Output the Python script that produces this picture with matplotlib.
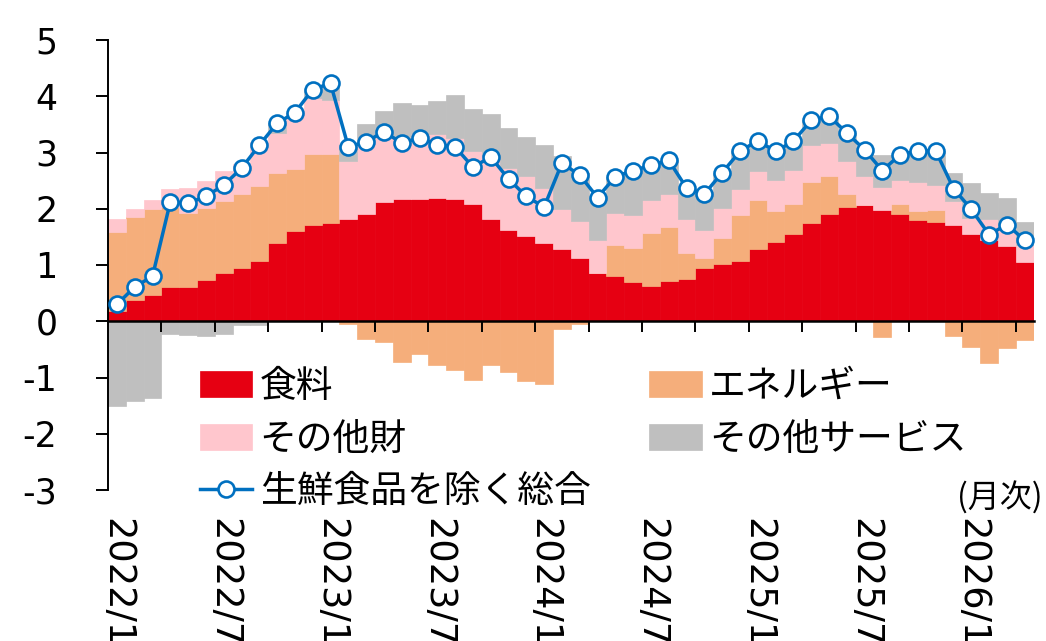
import matplotlib
matplotlib.use("Agg")
import matplotlib.pyplot as plt
import numpy as np

plt.rcParams["font.family"] = ["DejaVu Sans", "Noto Sans CJK JP"]
plt.rcParams["axes.unicode_minus"] = False

# Contributions to y/y CPI change (%pt), monthly from 2022/1
food = [0.19, 0.37, 0.46, 0.61, 0.61, 0.74, 0.86, 0.95, 1.07, 1.39, 1.60, 1.72,
        1.74, 1.82, 1.91, 2.12, 2.17, 2.18, 2.19, 2.18, 2.09, 1.82, 1.63, 1.51,
        1.39, 1.28, 1.13, 0.86, 0.80, 0.70, 0.63, 0.71, 0.75, 0.95, 1.01, 1.07,
        1.29, 1.41, 1.56, 1.75, 1.90, 2.03, 2.06, 1.98, 1.90, 1.80, 1.77, 1.71,
        1.55, 1.45, 1.34, 1.06]
energy = [1.40, 1.48, 1.53, 1.42, 1.32, 1.28, 1.28, 1.32, 1.33, 1.24, 1.10, 1.25,
          1.23, -0.04, -0.32, -0.37, -0.72, -0.59, -0.78, -0.87, -1.04, -0.78, -0.90, -1.06,
          -1.12, -0.13, -0.04, 0.00, 0.55, 0.60, 0.94, 0.96, 0.47, 0.17, 0.47, 0.82,
          0.86, 0.55, 0.52, 0.73, 0.68, 0.24, 0.00, -0.28, 0.18, 0.16, 0.20, -0.27,
          -0.46, -0.74, -0.47, -0.33]
other_goods = [0.22, 0.15, 0.16, 0.33, 0.44, 0.48, 0.53, 0.52, 0.79, 0.72, 1.01, 1.00,
               0.96, 1.03, 1.29, 1.17, 1.11, 1.17, 1.14, 1.08, 0.93, 1.12, 1.10, 1.07,
               0.98, 0.71, 0.65, 0.59, 0.58, 0.59, 0.59, 0.60, 0.59, 0.50, 0.54, 0.47,
               0.52, 0.56, 0.61, 0.65, 0.59, 0.58, 0.52, 0.41, 0.43, 0.52, 0.46, 0.43,
               0.29, 0.36, 0.37, 0.30]
other_services = [-1.51, -1.42, -1.36, -0.23, -0.25, -0.27, -0.23, -0.07, -0.06, 0.17, 0.00, 0.15,
                  0.28, 0.29, 0.31, 0.45, 0.60, 0.49, 0.58, 0.76, 0.76, 0.75, 0.70, 0.70,
                  0.77, 0.95, 0.86, 0.75, 0.64, 0.79, 0.61, 0.59, 0.56, 0.64, 0.62, 0.66,
                  0.54, 0.50, 0.51, 0.44, 0.48, 0.50, 0.47, 0.57, 0.45, 0.55, 0.60, 0.49,
                  0.61, 0.47, 0.48, 0.41]
core_cpi = [0.30, 0.61, 0.80, 2.12, 2.10, 2.22, 2.42, 2.72, 3.13, 3.52, 3.71, 4.12,
            4.23, 3.10, 3.19, 3.37, 3.17, 3.26, 3.14, 3.10, 2.74, 2.92, 2.53, 2.22,
            2.03, 2.81, 2.60, 2.20, 2.57, 2.68, 2.77, 2.86, 2.37, 2.26, 2.64, 3.02,
            3.21, 3.02, 3.20, 3.57, 3.65, 3.35, 3.05, 2.68, 2.96, 3.03, 3.03, 2.36,
            1.99, 1.54, 1.72, 1.44]
tick_labels = ["2022/1", "2022/7", "2023/1", "2023/7", "2024/1",
               "2024/7", "2025/1", "2025/7", "2026/1"]

series = [
    (food, "食料", "#E60012"),
    (energy, "エネルギー", "#F5AE7B"),
    (other_goods, "その他財", "#FFC6CD"),
    (other_services, "その他サービス", "#BFBFBF"),
]

n = len(core_cpi)
x = np.arange(n)

fig = plt.figure(figsize=(10.46, 6.41), dpi=100)
ax = fig.add_axes([108 / 1046, 1 - 490 / 641, (1033.6 - 108) / 1046, 450 / 641])

pos = np.zeros(n)
neg = np.zeros(n)
bars = {}
for vals, label, color in series:
    v = np.asarray(vals, dtype=float)
    bottom = np.where(v >= 0, pos, neg)
    bars[label] = ax.bar(x, v, width=1.0, bottom=bottom, color=color,
                         edgecolor=color, linewidth=0.5, label=label, zorder=1)
    pos += np.clip(v, 0, None)
    neg += np.clip(v, None, 0)

line, = ax.plot(x, core_cpi, color="#0070C0", lw=2.5, marker="o", ms=11.5,
                mfc="white", mec="#0070C0", mew=1.9, zorder=5,
                label="生鮮食品を除く総合")

ax.set_xlim(-0.5, n - 0.5)
ax.set_ylim(-3, 5)
ax.set_yticks(range(-3, 6))
ax.tick_params(axis="y", direction="out", length=8.5, width=1.4,
               labelsize=25, pad=28)

for s in ("top", "right"):
    ax.spines[s].set_visible(False)
ax.spines["left"].set_linewidth(1.4)
ax.spines["bottom"].set_position(("data", 0))
ax.spines["bottom"].set_linewidth(1.8)

# quarter boundary ticks on the zero line
ax.set_xticks(np.arange(2.5, n, 3))
ax.tick_params(axis="x", direction="out", length=8, width=1.4, labelbottom=False)

# month labels along the bottom edge
sec = ax.secondary_xaxis("bottom")
sec.set_xticks(np.arange(0, n, 6), labels=tick_labels)
sec.tick_params(length=0, pad=20, labelsize=26.5, labelrotation=270)
sec.spines["bottom"].set_visible(False)

handles = [bars["食料"], bars["その他財"], line, bars["エネルギー"], bars["その他サービス"]]
labels = ["食料", "その他財", "生鮮食品を除く総合", "エネルギー", "その他サービス"]
ax.legend(handles, labels, ncol=2, loc="upper left",
          bbox_to_anchor=(200 / 1046, 1 - 367 / 641), bbox_transform=fig.transFigure,
          frameon=False, prop={"family": ["Noto Sans CJK JP"], "size": 26.5},
          handlelength=1.42, handleheight=0.72, handletextpad=0.2,
          columnspacing=1.6, labelspacing=0.37, borderpad=0, borderaxespad=0)

fig.text(1043 / 1046, 1 - 498 / 641, "(月次)", ha="right", va="center",
         fontsize=23, family=["Noto Sans CJK JP"])

fig.savefig("out.png", dpi=100)
